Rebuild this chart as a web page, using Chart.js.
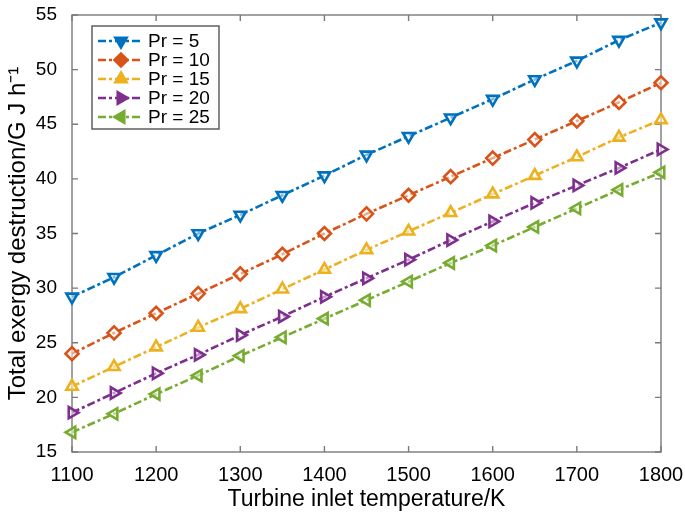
<!DOCTYPE html>
<html>
<head>
<meta charset="utf-8">
<script src="https://cdn.jsdelivr.net/npm/chart.js@4.4.1/dist/chart.umd.min.js"></script>
<style>
  html, body { margin: 0; padding: 0; background: #fff; }
  canvas { display: block; }
</style>
</head>
<body>
<canvas id="c" width="685" height="514"></canvas>
<script>
// ---- Data ----
const temperatures = [1100, 1150, 1200, 1250, 1300, 1350, 1400, 1450, 1500, 1550, 1600, 1650, 1700, 1750, 1800];
const pr5  = [29.2, 31.0, 33.0, 35.0, 36.7, 38.5, 40.3, 42.2, 43.9, 45.6, 47.3, 49.1, 50.8, 52.7, 54.3];
const pr10 = [24.0, 25.9, 27.7, 29.5, 31.3, 33.1, 35.0, 36.8, 38.5, 40.2, 41.9, 43.6, 45.3, 47.0, 48.8];
const pr15 = [21.0, 22.8, 24.6, 26.4, 28.1, 29.9, 31.7, 33.5, 35.2, 36.9, 38.6, 40.3, 42.0, 43.8, 45.4];
const pr20 = [18.6, 20.4, 22.2, 23.9, 25.7, 27.4, 29.2, 30.9, 32.6, 34.4, 36.1, 37.8, 39.4, 41.0, 42.7];
const pr25 = [16.8, 18.5, 20.3, 22.0, 23.8, 25.5, 27.2, 28.9, 30.6, 32.3, 33.9, 35.6, 37.3, 39.0, 40.6];
const seriesLabels = ['Pr = 5', 'Pr = 10', 'Pr = 15', 'Pr = 20', 'Pr = 25'];
const xTitle = 'Turbine inlet temperature/K';
const yTitle = 'Total exergy destruction/G J h\u207B\u00B9';

// ---- Styles ----
const seriesValues = [pr5, pr10, pr15, pr20, pr25];
const colors = ['#0072BD', '#D95319', '#EDB120', '#7E2F8E', '#77AC30'];
const markers = [
  { style: 'triangle', rot: 180 },
  { style: 'rectRot', rot: 0 },
  { style: 'triangle', rot: 0 },
  { style: 'triangle', rot: 90 },
  { style: 'triangle', rot: 270 }
];
const FONT = '"Liberation Sans", Arial, Helvetica, sans-serif';
const dashPattern = [8, 3, 3, 3];

const datasets = seriesValues.map((vals, i) => ({
  label: seriesLabels[i],
  data: temperatures.map((t, j) => ({ x: t, y: vals[j] })),
  borderColor: colors[i],
  backgroundColor: 'rgba(255,255,255,0)',
  borderWidth: 2.6,
  borderDash: dashPattern,
  pointStyle: markers[i].style,
  pointRotation: markers[i].rot,
  pointRadius: 6.5,
  pointBorderWidth: 2.6,
  pointBorderColor: colors[i],
  pointBackgroundColor: 'rgba(255,255,255,0.5)',
  tension: 0,
  fill: false,
  clip: false
}));

const frameTicks = {
  id: 'frameTicks',
  beforeDatasetsDraw(chart) {
    const { ctx, chartArea: { left, right, top, bottom }, scales: { x, y } } = chart;
    const tl = 6;
    ctx.save();
    ctx.strokeStyle = '#7a7a7a';
    ctx.lineWidth = 1.4;
    ctx.strokeRect(left, top, right - left, bottom - top);
    ctx.beginPath();
    x.ticks.forEach((t, i) => {
      const px = x.getPixelForTick(i);
      ctx.moveTo(px, bottom); ctx.lineTo(px, bottom - tl);
      ctx.moveTo(px, top); ctx.lineTo(px, top + tl);
    });
    y.ticks.forEach((t, i) => {
      const py = y.getPixelForTick(i);
      ctx.moveTo(left, py); ctx.lineTo(left + tl, py);
      ctx.moveTo(right, py); ctx.lineTo(right - tl, py);
    });
    ctx.stroke();
    ctx.restore();
  }
};

const legendBox = {
  id: 'legendBox',
  afterDatasetsDraw(chart) {
    const { ctx, chartArea } = chart;
    const x0 = chartArea.left + 20, y0 = chartArea.top + 11;
    const w = 127, h = 103, rowH = 19;
    ctx.save();
    ctx.fillStyle = '#fff';
    ctx.fillRect(x0, y0, w, h);
    ctx.strokeStyle = '#555';
    ctx.lineWidth = 1.4;
    ctx.strokeRect(x0, y0, w, h);
    chart.data.datasets.forEach((ds, i) => {
      const cy = y0 + 15 + i * rowH;
      ctx.strokeStyle = ds.borderColor;
      ctx.lineWidth = ds.borderWidth;
      ctx.setLineDash(ds.borderDash);
      ctx.beginPath();
      ctx.moveTo(x0 + 6, cy);
      ctx.lineTo(x0 + 51, cy);
      ctx.stroke();
      ctx.setLineDash([]);
      ctx.fillStyle = ds.borderColor;
      Chart.helpers.drawPoint(ctx, { pointStyle: ds.pointStyle, rotation: ds.pointRotation, radius: 6.5, borderWidth: 1.5 }, x0 + 29, cy);
      ctx.fillStyle = '#000';
      ctx.font = '19px ' + FONT;
      ctx.textBaseline = 'middle';
      ctx.textAlign = 'left';
      ctx.fillText(ds.label, x0 + 56, cy + 1);
    });
    ctx.restore();
  }
};

new Chart(document.getElementById('c'), {
  type: 'line',
  data: { datasets },
  plugins: [frameTicks, legendBox],
  options: {
    responsive: false,
    animation: false,
    devicePixelRatio: 1,
    layout: { padding: { top: 15, right: 24, left: 0, bottom: 0 } },
    plugins: { legend: { display: false }, tooltip: { enabled: false } },
    scales: {
      x: {
        type: 'linear',
        min: 1100, max: 1800,
        grid: { display: false },
        border: { display: false },
        ticks: { stepSize: 100, padding: 3, color: '#000', font: { family: FONT, size: 20 }, autoSkip: false, maxRotation: 0,
                 callback: v => String(v) },
        title: { display: true, text: xTitle, color: '#000', font: { family: FONT, size: 23 }, padding: { top: 0, bottom: 1 } },
        afterFit(s) { s.height = 62; s.paddingLeft = 0; s.paddingRight = 0; }
      },
      y: {
        type: 'linear',
        min: 15, max: 55,
        grid: { display: false },
        border: { display: false },
        ticks: { stepSize: 5, padding: 7, color: '#000', font: { family: FONT, size: 19 }, callback: v => String(v) },
        title: { display: true, text: yTitle, color: '#000', font: { family: FONT, size: 24 }, padding: { top: 4, bottom: 0 } },
        afterFit(s) { s.width = 72; s.paddingTop = 0; s.paddingBottom = 0; }
      }
    }
  }
});
</script>
</body>
</html>
